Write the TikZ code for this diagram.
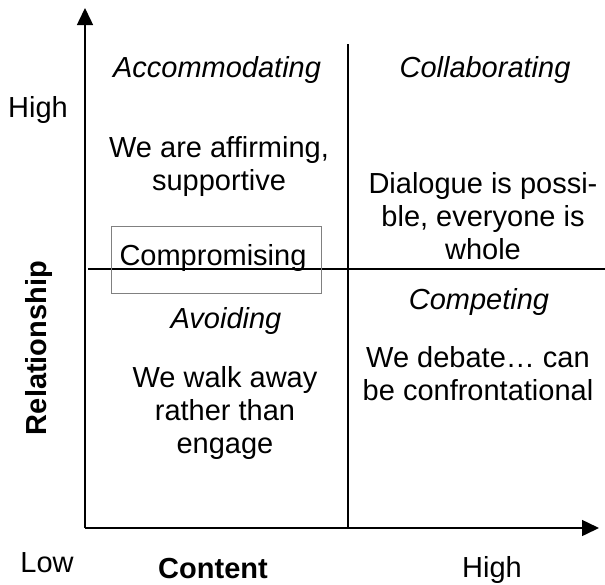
\documentclass[tikz,border=0pt]{standalone}
\usepackage{fontspec}
\setmainfont{Liberation Sans}
\usetikzlibrary{arrows.meta}

\begin{document}
\begin{tikzpicture}[x=1pt,y=-1pt,
    lbl/.style={font=\fontsize{29}{33}\selectfont,inner sep=0pt,align=center},
    mode/.style={lbl,font=\fontsize{29}{33}\selectfont\itshape},
    axname/.style={lbl,font=\fontsize{29}{33}\selectfont\bfseries},
    axis/.style={line width=1.5pt,-{Triangle[length=17pt,width=16pt]}}]
    \useasboundingbox (0,0) rectangle (605,584);
    \coordinate (o) at (85,528);
    \coordinate (ytop) at (85,8);
    \coordinate (xend) at (599,528);
    \coordinate (vtop) at (348,44);
    \coordinate (vbot) at (348,528);
    \coordinate (hl) at (88,269);
    \coordinate (hr) at (605,269);
    \draw[axis] (o) -- (ytop);
    \draw[axis] (o) -- (xend);
    \draw[line width=1.3pt] (vtop) -- (vbot);
    \draw[line width=1.3pt] (hl) -- (hr);
    \node[mode] (acc) at (217,70) {Accommodating};
    \node[mode] (col) at (485,70) {Collaborating};
    \node[mode] (avo) at (226,321) {Avoiding};
    \node[mode] (com) at (479,302) {Competing};
    \node[lbl] (acct) at (219,166) {We are affirming,\\supportive};
    \node[lbl] (colt) at (483,216) {Dialogue is possi-\\ble, everyone is\\whole};
    \node[lbl] (avot) at (225,413) {We walk away\\rather than\\engage};
    \node[lbl] (comt) at (478,374) {We debate\dots{} can\\be confrontational};
    \node[lbl] (cmp) at (213,258) {Compromising};
    \draw[gray,line width=0.8pt] (111,226) rectangle (321,293);
    \node[lbl,anchor=base] (yhigh) at (38,117) {High};
    \node[lbl,anchor=base] (low) at (47,572) {Low};
    \node[axname,anchor=base] (cont) at (213,578) {Content};
    \node[lbl,anchor=base] (xhigh) at (492,577) {High};
    \node[axname,rotate=90] (rel) at (39,348) {Relationship};
\end{tikzpicture}
\end{document}
